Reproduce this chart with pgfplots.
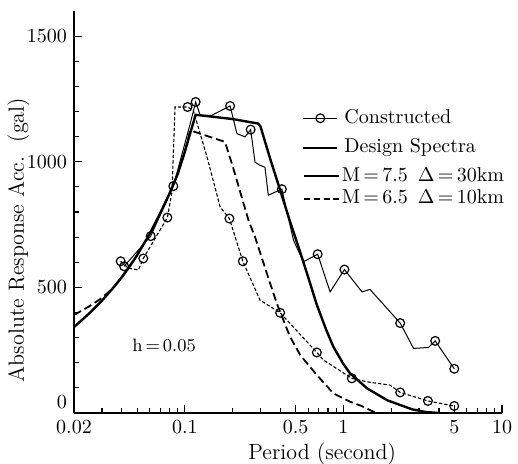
\documentclass[border=0pt]{standalone}
\usepackage{pgfplots}
\pgfplotsset{compat=1.18}
\begin{document}
\begin{tikzpicture}[x=1pt,y=1pt]
\path[use as bounding box] (0,0) rectangle (259,231.5);
\begin{axis}[
  at={(37pt,25pt)}, anchor=south west,
  scale only axis, width=214pt, height=201pt,
  xmode=log, xmin=0.02, xmax=10, ymin=0, ymax=1600,
  axis x line=bottom, axis y line=left,
  axis line style={-, line width=0.75pt},
  tick align=inside, major tick length=4pt, minor tick length=2.5pt,
  tick style={line width=0.6pt, black},
  xtick={0.02,0.1,0.5,1,5,10}, xticklabels={0.02,0.1,0.5,1,5,10},
  minor xtick={0.03,0.04,0.05,0.06,0.07,0.08,0.09,0.2,0.3,0.4,0.6,0.7,0.8,0.9,2,3,4,6,7,8,9},
  ytick={500,1000,1500},
  minor ytick={100,200,300,400,600,700,800,900,1100,1200,1300,1400},
  yticklabel style={/pgf/number format/1000 sep={}},
  extra y ticks={0}, extra y tick style={yticklabel style={yshift=5.5pt}},
  ticklabel style={font=\fontsize{10}{12}\selectfont},
  xlabel={Period (second)},
  ylabel={Absolute Response Acc.\ \ (gal)},
  label style={font=\fontsize{11}{13}\selectfont},
  xlabel style={at={(axis description cs:0.58,-0.0746)}, anchor=north, inner sep=0pt},
  ylabel style={at={(axis description cs:-0.103,0.43)}, anchor=south, inner sep=0pt},
  legend style={draw=none, fill=none, at={(axis description cs:0.532,0.771)}, anchor=north west,
    inner sep=0pt, font=\fontsize{10}{12}\selectfont, row sep=0pt,
    nodes={inner sep=2.9pt, text height=7pt, text depth=2pt}},
  legend cell align=left,
]
% Design spectra M=7.5
\addplot[black, line width=1.2pt, forget plot] coordinates {
(0.02,342) (0.025,397) (0.03,447) (0.035,495) (0.04,540) (0.045,585) (0.05,628)
(0.06,713) (0.07,795) (0.08,873) (0.09,950) (0.1,1040) (0.11,1130) (0.117,1187)
(0.2,1170) (0.29,1152) (0.30,1140) (0.346,1010) (0.40,885) (0.46,763) (0.534,640)
(0.60,540) (0.68,430) (0.78,330) (0.865,263) (1.0,195) (1.1,158) (1.41,98)
(1.9,50) (2.7,15) (3.3,4) (4.0,0)
};
% Design spectra M=6.5
\addplot[black, line width=0.9pt, dash pattern=on 4pt off 2pt, forget plot] coordinates {
(0.02,390) (0.025,425) (0.03,458) (0.035,495) (0.04,540) (0.045,585) (0.05,628)
(0.06,713) (0.07,795) (0.08,873) (0.09,950) (0.1,1040) (0.108,1125) (0.179,1079)
(0.2,984) (0.252,767) (0.277,701) (0.33,553) (0.38,436) (0.461,303) (0.534,231)
(0.6,192) (0.696,144) (0.865,78) (1.1,45) (1.3,28) (1.55,5) (1.7,0)
};
% Constructed M=7.5
\addplot[black, line width=0.5pt, mark=o, mark size=2.2pt,
  mark options={solid, fill=white, line width=0.6pt},
  mark indices={1,2,3,5,8,11,16,19,21,24,27,28}, forget plot] coordinates {
(0.0414,584) (0.0609,704) (0.0846,903) (0.108,1150) (0.117,1238) (0.125,1185)
(0.148,1185) (0.193,1222) (0.213,1112) (0.240,1099) (0.260,1128) (0.277,998)
(0.298,986) (0.32,978) (0.336,867) (0.409,891) (0.484,688) (0.559,602)
(0.688,632) (0.824,482) (1.015,571) (1.31,482) (1.47,492) (2.28,358)
(2.77,257) (3.44,261) (3.79,287) (5.0,176)
};
% Constructed M=6.5
\addplot[black, line width=0.55pt, dash pattern=on 1.7pt off 1pt, mark=o, mark size=2.2pt,
  mark options={solid, fill=white, line width=0.6pt},
  mark indices={1,4,5,8,12,13,15,16,18,21,22,23}, forget plot] coordinates {
(0.0394,604) (0.0438,577) (0.0509,569) (0.0547,615) (0.0776,778) (0.083,880)
(0.0867,1218) (0.104,1218) (0.113,1205) (0.138,1019) (0.167,820) (0.191,774)
(0.232,604) (0.298,449) (0.399,399) (0.68,241) (0.748,211) (1.13,138)
(1.41,124) (1.97,111) (2.28,82) (3.41,48) (5.0,28)
};
\node[font=\fontsize{9}{11}\selectfont] at (axis cs:0.074,270) {h\,=\,0.05};
\addlegendimage{black, line width=0.5pt, mark=o, mark size=2.2pt, mark options={solid, fill=white, line width=0.6pt}}
\addlegendentry{Constructed}
\addlegendimage{black, line width=1.2pt}
\addlegendentry{Design Spectra}
\end{axis}
\begin{axis}[
  at={(37pt,25pt)}, anchor=south west,
  scale only axis, width=214pt, height=201pt,
  xmode=log, xmin=0.02, xmax=10, ymin=0, ymax=1600, hide axis,
  legend style={draw=none, fill=none, at={(axis description cs:0.535,0.618)}, anchor=north west,
    inner sep=0pt, font=\fontsize{10}{12}\selectfont, row sep=0pt,
    nodes={inner sep=1.15pt, text height=7pt, text depth=2pt}},
  legend cell align=left,
]
\addlegendimage{black, line width=1.0pt}
\addlegendentry{M\,=\,7.5\enspace $\Delta$\,=\,30km}
\addlegendimage{black, line width=0.9pt, dash pattern=on 3pt off 1.8pt}
\addlegendentry{M\,=\,6.5\enspace $\Delta$\,=\,10km}
\end{axis}
\end{tikzpicture}
\end{document}
